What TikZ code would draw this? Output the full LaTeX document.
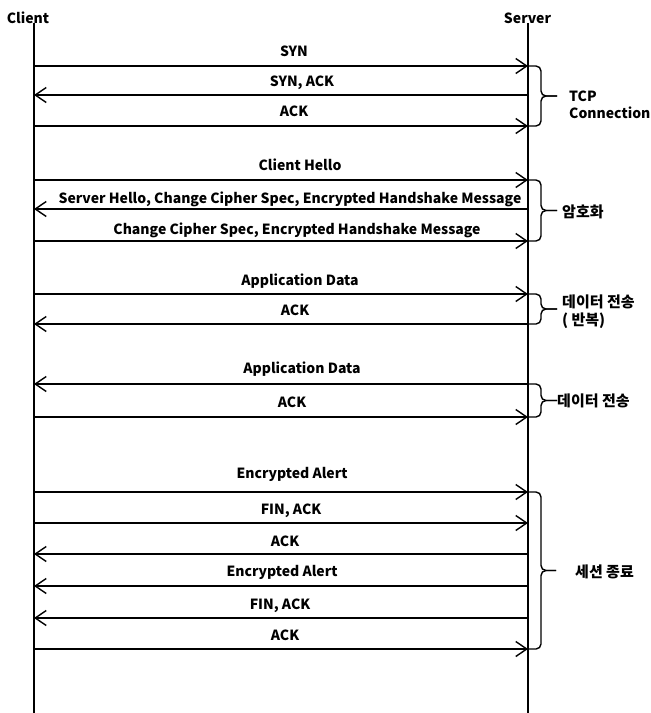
\documentclass[tikz,border=0pt]{standalone}
\usepackage{fontspec}
\setmainfont{Noto Sans CJK KR}
\usetikzlibrary{arrows.meta}
\begin{document}
\begin{tikzpicture}[x=1pt,y=-1pt,
  life/.style={line width=1.4pt},
  msg/.style={line width=1.4pt,-{Straight Barb[length=11pt,width=15pt]}},
  lbl/.style={anchor=base,inner sep=0pt,font=\fontsize{14}{17}\selectfont\bfseries},
  actor/.style={inner sep=0pt,font=\fontsize{14}{17}\selectfont\bfseries},
  grp/.style={anchor=west,align=left,inner sep=0pt,font=\fontsize{15}{17.5}\selectfont\bfseries},
  grplatin/.style={grp,font=\fontsize{14}{17}\selectfont\bfseries},
  bracestyle/.style={line width=1.4pt,rounded corners=5pt},
  pics/curly/.style 2 args={code={
    \draw[bracestyle] (0,0) -- (13,0) -- (13,#1) -- (#2,#1);
    \draw[bracestyle] (0,{2*#1}) -- (13,{2*#1}) -- (13,#1) -- (#2,#1);
  }}
]
\useasboundingbox[fill=white] (0,0) rectangle (651,713);

% actors and lifelines
\node[actor] (client) at (28,18) {Client};
\node[actor] (server) at (527.5,18) {Server};
\coordinate (cTop) at (34,23);
\coordinate (cBot) at (34,713);
\coordinate (sTop) at (528,23);
\coordinate (sBot) at (528,713);
\draw[life] (cTop) -- (cBot);
\draw[life] (sTop) -- (sBot);

% message anchor points
\foreach \i/\y in {1/66,2/95,3/126,4/180,5/209,6/241,7/294,8/324,
                   9/384,10/417,11/492,12/523,13/554,14/586,15/618,16/649}{
  \coordinate (c\i) at (34,\y);
  \coordinate (s\i) at (528,\y);
}

% messages
\draw[msg] (c1) -- (s1);
\draw[msg] (s2) -- (c2);
\draw[msg] (c3) -- (s3);
\draw[msg] (c4) -- (s4);
\draw[msg] (s5) -- (c5);
\draw[msg] (c6) -- (s6);
\draw[msg] (c7) -- (s7);
\draw[msg] (s8) -- (c8);
\draw[msg] (s9) -- (c9);
\draw[msg] (c10) -- (s10);
\draw[msg] (c11) -- (s11);
\draw[msg] (c12) -- (s12);
\draw[msg] (s13) -- (c13);
\draw[msg] (s14) -- (c14);
\draw[msg] (s15) -- (c15);
\draw[msg] (c16) -- (s16);

% message labels
\node[lbl] (l1)  at (294,56)  {SYN};
\node[lbl] (l2)  at (302,86)  {SYN, ACK};
\node[lbl] (l3)  at (294,116) {ACK};
\node[lbl] (l4)  at (300,170) {Client Hello};
\node[lbl] (l5)  at (290,203) {Server Hello, Change Cipher Spec, Encrypted Handshake Message};
\node[lbl] (l6)  at (297,234) {Change Cipher Spec, Encrypted Handshake Message};
\node[lbl] (l7)  at (300,285) {Application Data};
\node[lbl] (l8)  at (295,315) {ACK};
\node[lbl] (l9)  at (302,373) {Application Data};
\node[lbl] (l10) at (292,407) {ACK};
\node[lbl] (l11) at (292,478) {Encrypted Alert};
\node[lbl] (l12) at (291,514) {FIN, ACK};
\node[lbl] (l13) at (285,546) {ACK};
\node[lbl] (l14) at (282,576) {Encrypted Alert};
\node[lbl] (l15) at (280,609) {FIN, ACK};
\node[lbl] (l16) at (285,640) {ACK};

% group braces
\pic at (s1)  {curly={30}{29}};
\pic at (s4)  {curly={30.5}{29}};
\pic at (s7)  {curly={15}{29}};
\pic at (s9)  {curly={16.5}{29}};
\pic at (s11) {curly={78.5}{28}};

% group labels
\node[grplatin] (g1) at (569,104.5) {TCP\\Connection};
\node[grp] (g2) at (562,212)   {암호화};
\node[grp] (g3) at (562,311.5) {데이터 전송\\( 반복)};
\node[grp] (g4) at (557,401)   {데이터 전송};
\node[grp] (g5) at (575,572)   {세션 종료};
\end{tikzpicture}
\end{document}
